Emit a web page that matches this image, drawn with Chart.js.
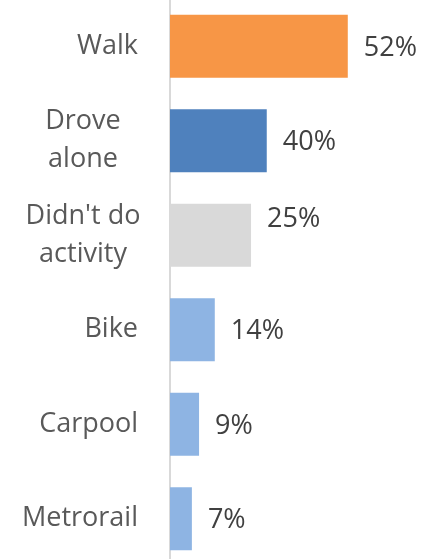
<!DOCTYPE html>
<html>
<head>
<meta charset="utf-8">
<script src="https://cdn.jsdelivr.net/npm/chart.js@4"></script>
<style>
  html, body { margin: 0; padding: 0; background: #fff; overflow: hidden; }
  #wrap { position: absolute; left: 0; top: -1px; width: 423px; height: 567px; }
</style>
</head>
<body>
<div id="wrap"><canvas id="modeChart"></canvas></div>
<script>
// categories (each entry = lines of the label)
const modes = [['Walk'], ['Drove', 'alone'], ["Didn't do", 'activity'], ['Bike'], ['Carpool'], ['Metrorail']];
// bar lengths as drawn in the picture (percent)
const barValues = [52, 28.3, 23.7, 13.1, 8.5, 6.4];
// percentages printed beside the bars
const shareLabels = ['52%', '40%', '25%', '14%', '9%', '7%'];
const barColors = ['#F79646', '#4F81BD', '#D9D9D9', '#8EB4E3', '#8EB4E3', '#8EB4E3'];

const FONT = '27px "Open Sans"';

// --- category labels: single lines right-aligned, wrapped ones centered ---
const categoryLabels = {
    id: 'categoryLabels',
    afterDraw(chart) {
        const ctx = chart.ctx;
        const yScale = chart.scales.y;
        const rightEdge = 138;
        const wrapCenter = 83;
        const lineH = 38;
        ctx.save();
        ctx.font = FONT;
        ctx.fillStyle = '#595959';
        ctx.textBaseline = 'middle';
        modes.forEach((lines, i) => {
            const yc = yScale.getPixelForValue(i);
            if (lines.length === 1) {
                ctx.textAlign = 'right';
                ctx.fillText(lines[0], rightEdge, yc);
                return;
            }
            ctx.textAlign = 'center';
            const y0 = yc - (lines.length - 1) * lineH / 2;
            lines.forEach((l, j) => ctx.fillText(l, wrapCenter, y0 + j * lineH));
        });
        ctx.restore();
    }
};

// --- value labels at end of bars ---
const valueLabels = {
    id: 'valueLabels',
    afterDatasetsDraw(chart) {
        const ctx = chart.ctx;
        const meta = chart.getDatasetMeta(0);
        const nudge = { 2: -18 };
        ctx.save();
        ctx.font = FONT;
        ctx.fillStyle = '#404040';
        ctx.textAlign = 'left';
        ctx.textBaseline = 'middle';
        meta.data.forEach((bar, i) => {
            ctx.fillText(shareLabels[i], bar.x + 16, bar.y + 2 + (nudge[i] || 0));
        });
        ctx.restore();
    }
};

new Chart(document.getElementById('modeChart'), {
    type: 'bar',
    data: {
        labels: modes,
        datasets: [{
            data: barValues,
            backgroundColor: barColors,
            borderWidth: 0,
            barPercentage: 0.667,
            categoryPercentage: 1
        }]
    },
    options: {
        indexAxis: 'y',
        responsive: true,
        maintainAspectRatio: false,
        animation: false,
        layout: { padding: { left: 170, right: 0, top: 0, bottom: 0 } },
        plugins: {
            legend: { display: false },
            tooltip: { enabled: false }
        },
        scales: {
            x: { display: false, min: 0, max: 74 },
            y: {
                ticks: { display: false },
                grid: { display: false, drawTicks: false },
                border: { display: true, color: '#D9D9D9', width: 2 }
            }
        }
    },
    plugins: [categoryLabels, valueLabels]
});
</script>
</body>
</html>
